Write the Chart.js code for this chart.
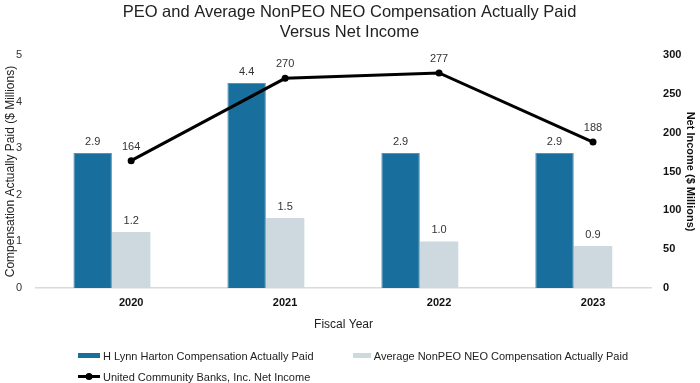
<!DOCTYPE html>
<html>
<head>
<meta charset="utf-8">
<script src="https://cdn.jsdelivr.net/npm/chart.js@4"></script>
<style>
  html, body { margin: 0; padding: 0; background: #fff; }
  #wrap { position: relative; width: 700px; height: 383px; }
  #legend { position: absolute; left: 78px; top: 345px; width: 600px;
    font-family: "Liberation Sans", Arial, sans-serif; font-size: 11px; color: #222; }
  .row { display: flex; height: 21px; align-items: center; }
  .item { display: flex; align-items: center; width: 275px; white-space: nowrap; }
  .sw { width: 22px; height: 5px; margin-right: 3px; }
</style>
</head>
<body>
<div id="wrap">
  <canvas id="c" width="700" height="383"></canvas>
  <div id="legend"></div>
</div>
<script>
const categories = ['2020', '2021', '2022', '2023'];
const peoCAP = [2.9, 4.4, 2.9, 2.9];
const neoCAP = [1.2, 1.5, 1.0, 0.9];
const netIncome = [164, 270, 277, 188];
const leftTicks = [0, 1, 2, 3, 4, 5];
const rightTicks = [0, 50, 100, 150, 200, 250, 300];

const seriesNames = [
  'H Lynn Harton Compensation Actually Paid',
  'Average NonPEO NEO Compensation Actually Paid',
  'United Community Banks, Inc. Net Income'
];

const FONT = '"Liberation Sans", Arial, sans-serif';
const xy = (vals) => categories.map((c, i) => ({ x: +c, y: vals[i] }));

const valueLabels = {
  id: 'valueLabels',
  afterDatasetsDraw(chart) {
    const ctx = chart.ctx;
    ctx.save();
    ctx.font = '11px ' + FONT;
    ctx.fillStyle = '#333';
    ctx.textAlign = 'center';
    ctx.textBaseline = 'middle';
    chart.data.datasets.forEach((ds, di) => {
      if (!ds.showValues) return;
      const meta = chart.getDatasetMeta(di);
      meta.data.forEach((el, i) => {
        const v = ds.data[i].y;
        if (v == null) return;
        const txt = ds.type === 'line' ? String(v) : v.toFixed(1);
        const off = ds.type === 'line' ? 14 : 11;
        ctx.fillText(txt, el.x, el.y - off);
      });
    });
    ctx.restore();
  }
};

const chart = new Chart(document.getElementById('c'), {
  type: 'bar',
  data: {
    datasets: [
      { type: 'line', label: seriesNames[2], data: xy(netIncome), yAxisID: 'y1',
        borderColor: '#000', backgroundColor: '#000', borderWidth: 3,
        pointRadius: 3.5, pointBackgroundColor: '#000', pointBorderWidth: 0,
        tension: 0, showValues: true, order: 0 },
      { label: seriesNames[0], data: xy(peoCAP), yAxisID: 'y',
        backgroundColor: '#186f9d', borderColor: '#4f95bf', borderWidth: 1,
        showValues: true, order: 1 },
      { label: seriesNames[1], data: xy(neoCAP), yAxisID: 'y',
        backgroundColor: '#cdd9de', borderWidth: 0, showValues: true, order: 2 },
      { label: 'spacer', data: categories.map(c => ({ x: +c, y: null })), yAxisID: 'y',
        backgroundColor: 'rgba(0,0,0,0)', order: 3 }
    ]
  },
  options: {
    responsive: false,
    animation: false,
    layout: { padding: { left: 2, right: 3, top: 2, bottom: 51.4 } },
    datasets: { bar: { categoryPercentage: 0.75, barPercentage: 1.0 } },
    plugins: {
      legend: { display: false },
      tooltip: { enabled: false },
      title: {
        display: true,
        text: ['PEO and Average NonPEO NEO Compensation Actually Paid', 'Versus Net Income'],
        font: { family: FONT, size: 16.5, weight: 'normal', lineHeight: 1.25 },
        color: '#222',
        padding: { top: 0, bottom: 11.8 }
      }
    },
    scales: {
      x: {
        type: 'linear',
        offset: false,
        min: +categories[0] - 0.618,
        max: +categories[categories.length - 1] + 0.377,
        afterBuildTicks: (s) => { s.ticks = categories.map(c => ({ value: +c })); },
        ticks: { callback: (v) => String(v), padding: 8, color: '#111',
          font: { family: FONT, size: 11, weight: 'bold' } },
        grid: { display: false, drawTicks: false },
        border: { display: true, color: '#dadada', width: 1.5 },
        title: { display: true, text: 'Fiscal Year', color: '#222',
          font: { family: FONT, size: 12 }, padding: { top: 0, bottom: 0 } }
      },
      y: {
        position: 'left', min: 0, max: 5,
        afterBuildTicks: (s) => { s.ticks = leftTicks.map(v => ({ value: v })); },
        ticks: { padding: 14, color: '#333', font: { family: FONT, size: 11 } },
        grid: { display: false, drawTicks: false },
        border: { display: false },
        title: { display: true, text: 'Compensation Actually Paid ($ Millions)', color: '#222',
          font: { family: FONT, size: 12 }, padding: { top: 1, bottom: -15.5 } }
      },
      y1: {
        position: 'right', min: 0, max: 300,
        afterBuildTicks: (s) => { s.ticks = rightTicks.map(v => ({ value: v })); },
        ticks: { padding: 12, color: '#111', font: { family: FONT, size: 11, weight: 'bold' } },
        grid: { display: false, drawTicks: false },
        border: { display: false },
        title: { display: true, text: 'Net Income ($ Millions)', color: '#111',
          font: { family: FONT, size: 11, weight: 'bold' }, padding: { top: 0.4, bottom: -10 } }
      }
    }
  },
  plugins: [valueLabels]
});

(function buildLegend() {
  const ds = chart.data.datasets;
  const leg = document.getElementById('legend');
  const row1 = document.createElement('div'); row1.className = 'row';
  const row2 = document.createElement('div'); row2.className = 'row';
  [ds[1], ds[2]].forEach(d => {
    const it = document.createElement('div'); it.className = 'item';
    const sw = document.createElement('span'); sw.className = 'sw';
    sw.style.background = d.backgroundColor;
    it.appendChild(sw);
    it.appendChild(document.createTextNode(d.label));
    row1.appendChild(it);
  });
  const d = ds[0];
  const it = document.createElement('div'); it.className = 'item';
  const ns = 'http://www.w3.org/2000/svg';
  const svg = document.createElementNS(ns, 'svg');
  svg.setAttribute('width', '22'); svg.setAttribute('height', '9');
  svg.style.marginRight = '3px';
  const ln = document.createElementNS(ns, 'line');
  ln.setAttribute('x1', '0'); ln.setAttribute('x2', '22');
  ln.setAttribute('y1', '4.5'); ln.setAttribute('y2', '4.5');
  ln.setAttribute('stroke', d.borderColor); ln.setAttribute('stroke-width', '3');
  const cc = document.createElementNS(ns, 'circle');
  cc.setAttribute('cx', '11'); cc.setAttribute('cy', '4.5'); cc.setAttribute('r', '3.5');
  cc.setAttribute('fill', d.pointBackgroundColor);
  svg.appendChild(ln); svg.appendChild(cc);
  it.appendChild(svg);
  it.appendChild(document.createTextNode(d.label));
  row2.appendChild(it);
  leg.appendChild(row1); leg.appendChild(row2);
})();
</script>
</body>
</html>
